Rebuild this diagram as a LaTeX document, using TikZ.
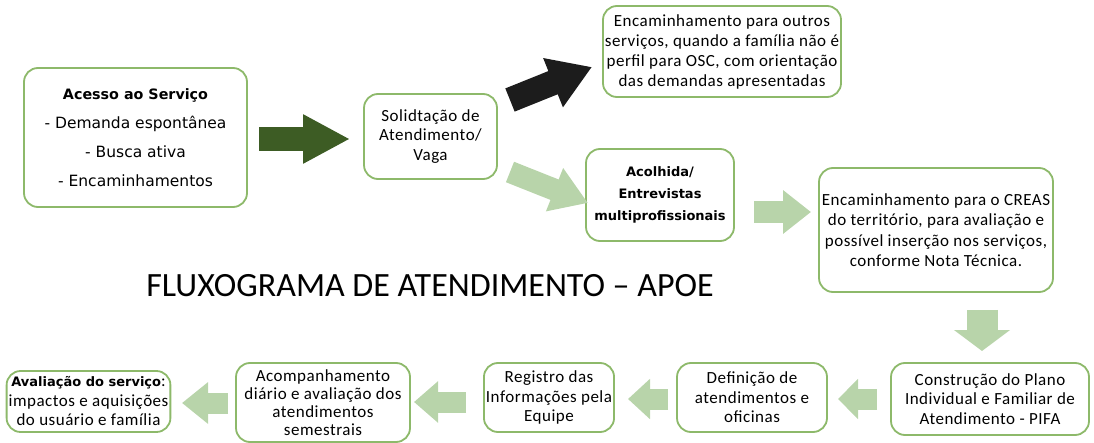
\documentclass[tikz,border=0pt]{standalone}
\usepackage{fontspec}
\setmainfont{Carlito}
\newfontfamily\boxfont[LetterSpace=3]{Carlito}
\newfontfamily\tah{DejaVu Sans}
\usetikzlibrary{arrows.meta}
\definecolor{boxgreen}{RGB}{141,185,106}
\definecolor{darkarrow}{RGB}{61,92,36}
\definecolor{lightarrow}{RGB}{184,212,170}
\definecolor{blackarrow}{RGB}{28,28,28}
\tikzset{
  stepbox/.style={draw=boxgreen, line width=1.8pt, rounded corners=14pt, fill=white,
    align=center, inner sep=2pt, font=\boxfont\fontsize{17}{19.5}\selectfont},
}
\begin{document}
\begin{tikzpicture}[x=1pt,y=-1pt]
\useasboundingbox (0,0) rectangle (1094,443);
% boxes
\node[stepbox, minimum width=223pt, minimum height=139pt, font=\tah\fontsize{15.5}{29}\selectfont] (acesso) at (135.5,137.5)
  {{\fontsize{14.3}{29}\selectfont\bfseries Acesso ao Serviço}\\- Demanda espontânea\\- Busca ativa\\- Encaminhamentos};
\node[stepbox, minimum width=133pt, minimum height=85pt] (solic) at (430.5,136.5)
  {Solidtação de\\Atendimento/\\Vaga};
\node[stepbox, minimum width=234pt, minimum height=91pt, font=\boxfont\fontsize{17}{20}\selectfont] (outros) at (722,51.5)
  {Encaminhamento para outros\\serviços, quando a família não é\\perfil para OSC, com orientação\\das demandas apresentadas};
\node[stepbox, minimum width=148pt, minimum height=92pt, font=\tah\bfseries\fontsize{13}{22}\selectfont] (acolhida) at (660,195)
  {Acolhida/\\Entrevistas\\multiprofissionais};
\node[stepbox, minimum width=234pt, minimum height=124pt, font=\boxfont\fontsize{17}{20.5}\selectfont] (creas) at (936,230)
  {\raisebox{4pt}{\parbox{230pt}{\centering Encaminhamento para o CREAS\\do território, para avaliação e\\possível inserção nos serviços,\\conforme Nota Técnica.}}};
\node[stepbox, minimum width=198pt, minimum height=72pt] (constr) at (990,399)
  {Construção do Plano\\Individual e Familiar de\\Atendimento - PIFA};
\node[stepbox, minimum width=150pt, minimum height=69pt] (defin) at (752,397.5)
  {Definição de\\atendimentos e\\oficinas};
\node[stepbox, minimum width=130pt, minimum height=69pt] (regist) at (549,397.5)
  {Registro das\\Informações pela\\Equipe};
\node[stepbox, minimum width=174pt, minimum height=79pt, font=\boxfont\fontsize{17}{18}\selectfont] (acomp) at (323,402.5)
  {Acompanhamento\\diário e avaliação dos\\atendimentos\\semestrais};
\node[stepbox, minimum width=163pt, minimum height=61pt] (aval) at (88.5,401.5)
  {{\tah\bfseries\fontsize{13}{19}\selectfont Avaliação do serviço}:\\impactos e aquisições\\do usuário e família};
% title
\node[font=\fontsize{34}{38}\selectfont] (title) at (430,286) {FLUXOGRAMA DE ATENDIMENTO – APOE};
% arrow endpoints
\coordinate (a1s) at (259,139); \coordinate (a1e) at (350,139);
\coordinate (a2s) at (510,100); \coordinate (a2e) at (592,67);
\coordinate (a3s) at (510,172); \coordinate (a3e) at (588,203);
\coordinate (a4s) at (754,212); \coordinate (a4e) at (811,212);
\coordinate (a5s) at (982,310); \coordinate (a5e) at (982,351);
\coordinate (a6s) at (877,399); \coordinate (a6e) at (838,399);
\coordinate (a7s) at (668,399); \coordinate (a7e) at (628,399);
\coordinate (a8s) at (466,402); \coordinate (a8e) at (414,402);
\coordinate (a9s) at (228,403); \coordinate (a9e) at (182,403);
% arrows
\draw[darkarrow, line width=24pt, -{Triangle[width=46pt 0 0, length=47pt 0 0]}] (a1s) -- (a1e);
\draw[blackarrow, line width=25pt, -{Triangle[width=50pt 0 0, length=42pt 0 0]}] (a2s) -- (a2e);
\draw[lightarrow, line width=22pt, -{Triangle[width=44pt 0 0, length=36pt 0 0]}] (a3s) -- (a3e);
\draw[lightarrow, line width=22pt, -{Triangle[width=42pt 0 0, length=28pt 0 0]}] (a4s) -- (a4e);
\draw[lightarrow, line width=31pt, -{Triangle[width=55pt 0 0, length=21pt 0 0]}] (a5s) -- (a5e);
\draw[lightarrow, line width=21pt, -{Triangle[width=39pt 0 0, length=20pt 0 0]}] (a6s) -- (a6e);
\draw[lightarrow, line width=21pt, -{Triangle[width=39pt 0 0, length=22pt 0 0]}] (a7s) -- (a7e);
\draw[lightarrow, line width=21pt, -{Triangle[width=40pt 0 0, length=24pt 0 0]}] (a8s) -- (a8e);
\draw[lightarrow, line width=21pt, -{Triangle[width=40pt 0 0, length=26pt 0 0]}] (a9s) -- (a9e);
\end{tikzpicture}
\end{document}
